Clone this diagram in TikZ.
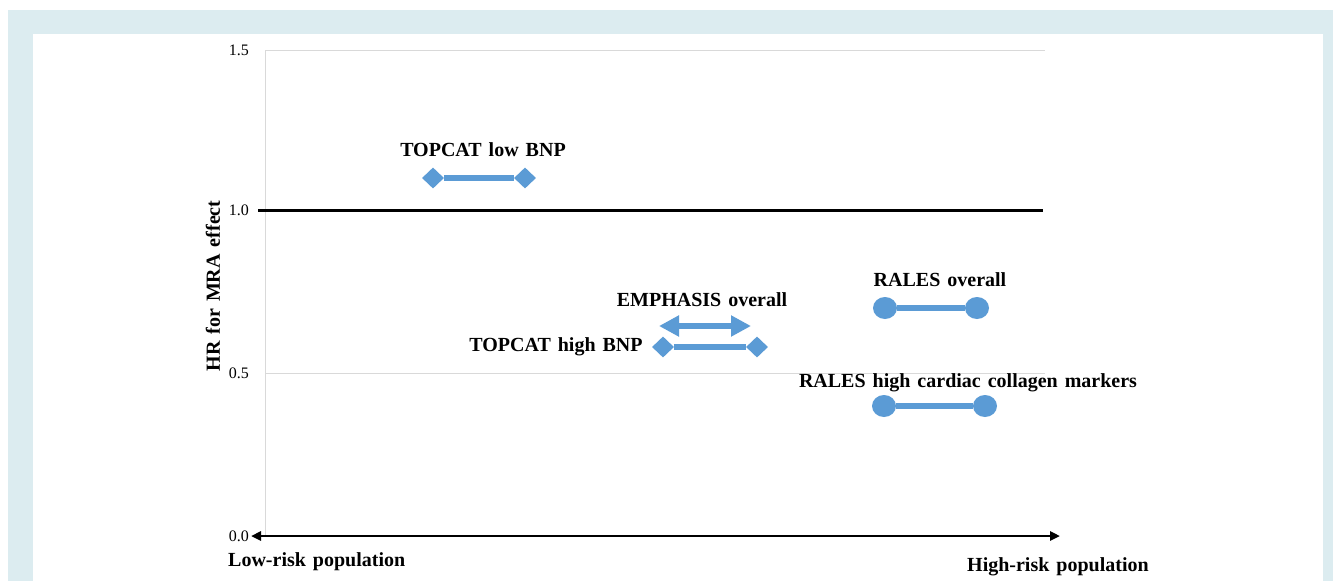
\documentclass[tikz,border=0pt]{standalone}
\usepackage{fontspec}
\setmainfont{Liberation Serif}
\usetikzlibrary{arrows.meta,shapes.geometric}
\definecolor{frameblue}{HTML}{DCECF0}
\definecolor{barblue}{HTML}{5B9BD5}
\definecolor{gridgray}{HTML}{D9D9D9}
\newcommand\mylblfont{\bfseries\fontsize{20}{24}\selectfont\spaceskip 7pt plus 1pt\relax}
\tikzset{
  lbl/.style={font=\mylblfont, inner sep=0pt},
  tick/.style={font=\fontsize{16}{19}\selectfont, inner sep=0pt, anchor=east},
  dia/.style={diamond, fill=barblue, draw=none, minimum width=22pt, minimum height=21pt, inner sep=0pt},
  dot/.style={ellipse, fill=barblue, draw=none, minimum width=24pt, minimum height=22pt, inner sep=0pt},
  bar/.style={barblue, line width=6pt},
  grid/.style={gridgray, line width=1pt},
}
\begin{document}
\begin{tikzpicture}[x=1pt,y=-1pt]
\useasboundingbox (0,0) rectangle (1333,581);
\fill[white] (0,0) rectangle (1333,581);
\fill[frameblue] (8,10) rectangle (1333,581);
\fill[white] (33,34) rectangle (1323,581);
% grid
\draw[grid] (265,50) -- (1045,50);
\draw[grid] (265,373) -- (1045,373);
\draw[grid] (265,50) -- (265,536);
% tick labels
\node[tick] (t15) at (249,50) {1.5};
\node[tick] (t10) at (249,210) {1.0};
\node[tick] (t05) at (249,373) {0.5};
\node[tick] (t00) at (249,536) {0.0};
% reference line
\coordinate (r1) at (258,210);
\coordinate (r2) at (1043,210);
\draw[black, line width=3pt] (r1) -- (r2);
% x axis
\coordinate (xa) at (251,536);
\coordinate (xb) at (1060,536);
\draw[black, line width=2.5pt, {Triangle[length=10pt,width=9pt]}-{Triangle[length=10pt,width=9pt]}] (xa) -- (xb);
% axis titles
\node[lbl, rotate=90] (ytitle) at (213,286) {HR for MRA effect};
\node[lbl, anchor=west] (low) at (228,562) {Low-risk population};
\node[lbl, anchor=west] (high) at (967,567) {High-risk population};
% TOPCAT low BNP
\node[lbl] (tl) at (483,150) {TOPCAT low BNP};
\node[dia] (tl1) at (433,178) {};
\node[dia] (tl2) at (525,178) {};
\draw[bar] (tl1) -- (tl2);
% EMPHASIS overall
\node[lbl] (em) at (702,300) {EMPHASIS overall};
\coordinate (em1) at (659,326);
\coordinate (em2) at (751,326);
\draw[barblue, line width=6pt, {Triangle[length=20pt,width=20pt]}-{Triangle[length=20pt,width=20pt]}] (em1) -- (em2);
% TOPCAT high BNP
\node[lbl] (th) at (556,347) {TOPCAT high BNP};
\node[dia] (th1) at (663,347) {};
\node[dia] (th2) at (757,347) {};
\draw[bar] (th1) -- (th2);
% RALES overall
\node[lbl] (ro) at (940,280) {RALES overall};
\node[dot] (ro1) at (885,308) {};
\node[dot] (ro2) at (977,308) {};
\draw[bar] (ro1) -- (ro2);
% RALES high cardiac collagen markers
\node[lbl] (rh) at (968,383) {RALES high cardiac collagen markers};
\node[dot] (rh1) at (884,406) {};
\node[dot] (rh2) at (985,406) {};
\draw[bar] (rh1) -- (rh2);
\end{tikzpicture}
\end{document}
